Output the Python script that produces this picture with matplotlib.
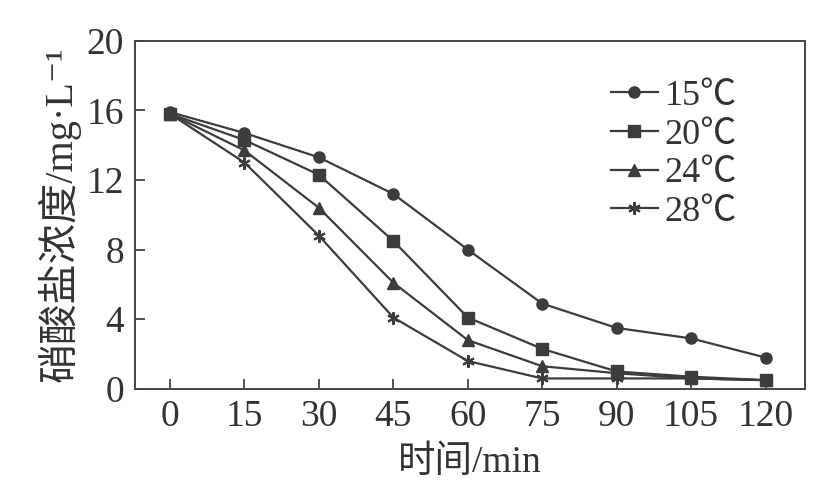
import matplotlib
matplotlib.use('Agg')
import matplotlib.pyplot as plt

plt.rcParams['font.family'] = ['Liberation Serif', 'Noto Sans CJK SC', 'DejaVu Sans']

# tiempo (min) y concentraciones de nitrato para cada temperatura
tiempo = [0, 15, 30, 45, 60, 75, 90, 105, 120]
c15 = [15.9, 14.7, 13.3, 11.2, 8.0, 4.9, 3.5, 2.9, 1.8]
c20 = [15.8, 14.3, 12.3, 8.5, 4.1, 2.3, 1.0, 0.7, 0.5]
c24 = [15.8, 13.7, 10.4, 6.1, 2.8, 1.3, 0.9, 0.6, 0.5]
c28 = [15.8, 13.0, 8.8, 4.1, 1.6, 0.6, 0.6, 0.6, 0.5]
etiquetas = ['15℃', '20℃', '24℃', '28℃']
yticks = [0, 4, 8, 12, 16, 20]

color = '#3c3c3c'
fig = plt.figure(figsize=(8.2, 4.91), dpi=100)
ax = fig.add_axes([0.165, 0.208, 0.817, 0.709])

ax.plot(tiempo, c15, marker='o', ms=8, color=color, lw=1.6, label=etiquetas[0])
ax.plot(tiempo, c20, marker='s', ms=8, color=color, lw=1.6, label=etiquetas[1])
ax.plot(tiempo, c24, marker='^', ms=8, color=color, lw=1.6, label=etiquetas[2])
ax.plot(tiempo, c28, marker=(6, 2, 0), ms=9, mew=1.5, color=color, lw=1.6, label=etiquetas[3])

ax.set_xlim(-7, 128)
ax.set_ylim(0, 20)
ax.set_xticks(tiempo)
ax.set_yticks(yticks)
ax.tick_params(direction='in', length=7, width=1.2, labelsize=27, colors='#333333', pad=8)
for s in ax.spines.values():
    s.set_color('#444444')
    s.set_linewidth(1.4)

ax.set_xlabel('时间/min', fontsize=27, color='#333333', labelpad=8)
ax.set_ylabel('硝酸盐浓度/mg·L⁻¹', fontsize=29, color='#333333', labelpad=4)

leg = ax.legend(loc='upper right', bbox_to_anchor=(0.92, 0.93), frameon=False,
                fontsize=26, handlelength=1.3, handletextpad=0.2, labelspacing=0.15,
                borderaxespad=0)
for t in leg.get_texts():
    t.set_color('#333333')

fig.savefig('out.png', dpi=100)
